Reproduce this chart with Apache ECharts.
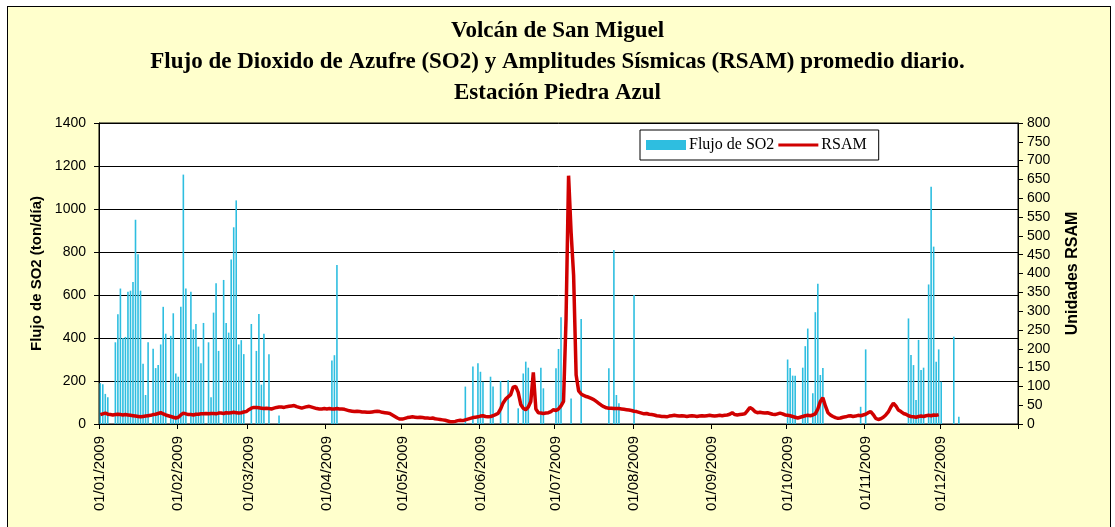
<!DOCTYPE html>
<html><head><meta charset="utf-8">
<script src="https://cdn.jsdelivr.net/npm/echarts@6/dist/echarts.min.js"></script>
<style>
html,body{margin:0;padding:0;background:#fff;overflow:hidden;}
#frame{position:absolute;left:7px;top:6px;width:1102px;height:540px;border:1px solid #000;background:#FFFFCC;}
#c{position:absolute;left:0;top:0;width:1115px;height:527px;}
</style>
</head><body><div id="frame"></div><div id="c"></div>
<script>
// ---------- data ----------
const year = 2009;
const monthLengths = [31,28,31,30,31,30,31,31,30,31,30,31];
const titleText = 'Volcán de San Miguel\nFlujo de Dioxido de Azufre (SO2) y Amplitudes Sísmicas (RSAM) promedio diario.\nEstación Piedra Azul';
const seriesNames = ['Flujo de SO2', 'RSAM'];
const leftAxisName = 'Flujo de SO2 (ton/día)';
const rightAxisName = 'Unidades RSAM';

// daily SO2 flux (ton/día), only days with a measurement
const so2Dates = ['01/01','02/01','03/01','04/01','07/01','08/01','09/01','10/01','11/01','12/01','13/01','14/01','15/01','16/01','17/01','18/01','19/01','20/01','22/01','23/01','24/01','25/01','26/01','27/01','29/01','30/01','31/01',
 '01/02','02/02','03/02','04/02','06/02','07/02','08/02','09/02','10/02','11/02','13/02','14/02','15/02','16/02','17/02','19/02','20/02','21/02','22/02','23/02','24/02','25/02','26/02','27/02',
 '02/03','04/03','05/03','06/03','07/03','09/03','13/03',
 '03/04','04/04','05/04',
 '26/05','29/05','31/05','01/06','02/06','05/06','06/06','09/06','12/06','16/06','18/06','19/06','20/06','25/06','26/06',
 '01/07','02/07','03/07','07/07','11/07','22/07','24/07','25/07','26/07','01/08',
 '01/10','02/10','03/10','04/10','07/10','08/10','09/10','11/10','12/10','13/10','14/10','15/10','30/10',
 '01/11','18/11','19/11','20/11','21/11','22/11','23/11','24/11','26/11','27/11','28/11','29/11','30/11','01/12','06/12','08/12'];
const so2Values = [190,185,140,125,380,510,630,400,405,615,620,660,950,790,620,280,135,380,350,260,275,370,545,420,410,515,235,
 220,545,1160,630,615,440,465,360,283,470,380,125,518,655,340,670,470,425,765,915,1040,370,390,325,
 465,340,512,183,420,325,40,
 295,320,740,
 174,267,282,243,197,220,174,200,205,73,235,290,262,262,166,
 259,349,496,119,488,259,809,135,97,600,
 300,260,225,225,262,362,444,143,520,652,228,260,80,
 347,491,321,274,112,391,251,262,649,1104,825,290,347,197,406,34];

// daily RSAM (right axis), one value per day
const rsamJan = [25,27,29,26,25,24,25,26,25,24,25,24,23,22,21,20,19,20,21,22,23,25,26,28,30,27,24,22,20,18,16];
const rsamFeb = [18,24,29,27,25,25,24,26,26,27,27,28,27,28,28,27,29,29,28,30,29,30,31,30,29,30,32,33];
const rsamMar = [38,42,44,44,43,42,41,42,41,40,42,44,45,45,44,46,47,48,49,46,44,42,44,46,47,45,43,41,40,40,41];
const rsamApr = [40,41,40,40,41,40,40,39,37,35,34,33,34,33,32,32,31,31,32,33,34,33,31,30,29,28,24,20,16,13];
const rsamMay = [13,15,17,18,19,18,17,18,17,16,16,15,16,14,13,12,11,10,8,6,6,7,9,10,9,11,13,15,17,18,19];
const rsamJun = [21,22,20,19,20,22,25,28,40,56,66,72,78,98,100,84,52,42,38,45,60,137,40,30,29,28,29,30,33,38];
const rsamJul = [36,40,48,60,280,660,510,395,130,88,80,76,73,71,68,65,60,55,50,46,43,42,42,41,41,41,40,39,38,37,36];
const rsamAug = [34,33,31,29,27,28,26,25,24,22,21,20,20,19,21,22,23,22,21,22,21,20,21,22,21,20,21,22,21,22,23];
const rsamSep = [22,21,22,23,22,23,24,26,30,25,24,25,26,27,35,44,40,33,30,31,30,29,30,28,26,25,27,29,27,24];
const rsamOct = [23,22,20,18,16,18,20,22,23,22,24,27,40,60,70,48,30,24,20,17,15,16,18,19,21,22,20,21,23,22,24];
const rsamNov = [26,30,33,25,15,12,14,18,24,32,45,55,48,37,33,28,26,22,20,19,18,20,21,20,22,23,22,24,23,25];

// ---------- build tables ----------
const pad = n => (n < 10 ? '0' : '') + n;
const days = [];
const monthStart = {};
monthLengths.forEach((len, m) => {
  for (let d = 1; d <= len; d++) {
    if (d === 1) monthStart[days.length] = true;
    days.push(pad(d) + '/' + pad(m + 1) + '/' + year);
  }
});
const dayIndex = {};
days.forEach((s, i) => { dayIndex[s] = i; });
const so2Full = days.map(() => null);
so2Dates.forEach((s, i) => { so2Full[dayIndex[s + '/' + year]] = so2Values[i]; });
const rsam = [].concat(rsamJan, rsamFeb, rsamMar, rsamApr, rsamMay, rsamJun, rsamJul, rsamAug, rsamSep, rsamOct, rsamNov);

const isStart = (idx) => !!monthStart[idx];
const sans = 'Liberation Sans, Arial, sans-serif';
const serif = 'Liberation Serif, Times New Roman, serif';
const plain = v => String(v);
// legend line icon: thin bar, with tiny corner marks keeping the 10px box
const lineIcon = 'path://M0,0h0.05v0.05h-0.05Z M0,3.5H40V6.5H0Z M39.95,9.95h0.05v0.05h-0.05Z';

const chart = echarts.init(document.getElementById('c'), null, {renderer: 'canvas'});
chart.setOption({
  animation: false,
  backgroundColor: 'transparent',
  title: {
    text: titleText,
    left: 'center',
    top: 11,
    textStyle: {fontFamily: serif, fontSize: 23, fontWeight: 'bold', color: '#000', lineHeight: 31}
  },
  legend: {
    data: [{name: seriesNames[0], icon: 'rect'}, {name: seriesNames[1], icon: lineIcon, itemStyle: {color: '#D00000'}}],
    left: 640, top: 130,
    orient: 'horizontal',
    backgroundColor: '#fff',
    borderColor: '#000', borderWidth: 1, borderRadius: 0,
    padding: [7, 12, 7, 6],
    itemGap: 4, itemWidth: 40, itemHeight: 10,
    textStyle: {fontFamily: serif, fontSize: 16, color: '#000', padding: [0, 0, 0, -2]}
  },
  grid: {
    left: 99, right: 97, top: 123, bottom: 103,
    show: true, backgroundColor: '#fff', borderColor: '#000', borderWidth: 1,
    containLabel: false
  },
  xAxis: {
    type: 'category',
    data: days,
    boundaryGap: true,
    axisLine: {lineStyle: {color: '#000', width: 1}},
    axisTick: {show: true, interval: isStart, length: 5, lineStyle: {color: '#000'}},
    axisLabel: {interval: isStart, rotate: 90, margin: 12, fontFamily: sans, fontSize: 15, color: '#000'},
    splitLine: {show: false}
  },
  yAxis: [{
    type: 'value', min: 0, max: 1400, interval: 200,
    name: leftAxisName, nameLocation: 'middle', nameRotate: 90, nameGap: 50,
    nameTextStyle: {fontFamily: sans, fontSize: 15, fontWeight: 'bold', color: '#000'},
    axisLine: {show: true, lineStyle: {color: '#000'}},
    axisTick: {show: true, length: 5, lineStyle: {color: '#000'}},
    axisLabel: {margin: 13, fontFamily: sans, fontSize: 14, color: '#000', formatter: plain},
    splitLine: {show: true, lineStyle: {color: '#000', width: 1}}
  }, {
    type: 'value', min: 0, max: 800, interval: 50, position: 'right',
    name: rightAxisName, nameLocation: 'middle', nameRotate: 90, nameGap: 47,
    nameTextStyle: {fontFamily: sans, fontSize: 16, fontWeight: 'bold', color: '#000'},
    axisLine: {show: true, lineStyle: {color: '#000'}},
    axisTick: {show: true, length: 5, lineStyle: {color: '#000'}},
    axisLabel: {margin: 9, fontFamily: sans, fontSize: 14, color: '#000', formatter: plain},
    splitLine: {show: false}
  }],
  series: [{
    name: seriesNames[0],
    type: 'bar',
    yAxisIndex: 0,
    data: so2Full,
    barWidth: 1.6,
    itemStyle: {color: '#2EBEE0'}
  }, {
    name: seriesNames[1],
    type: 'line',
    yAxisIndex: 1,
    data: rsam,
    symbol: 'none',
    showSymbol: false,
    lineStyle: {color: '#D00000', width: 3.5},
    itemStyle: {color: '#D00000'},
    z: 3
  }]
});
</script>
</body></html>
